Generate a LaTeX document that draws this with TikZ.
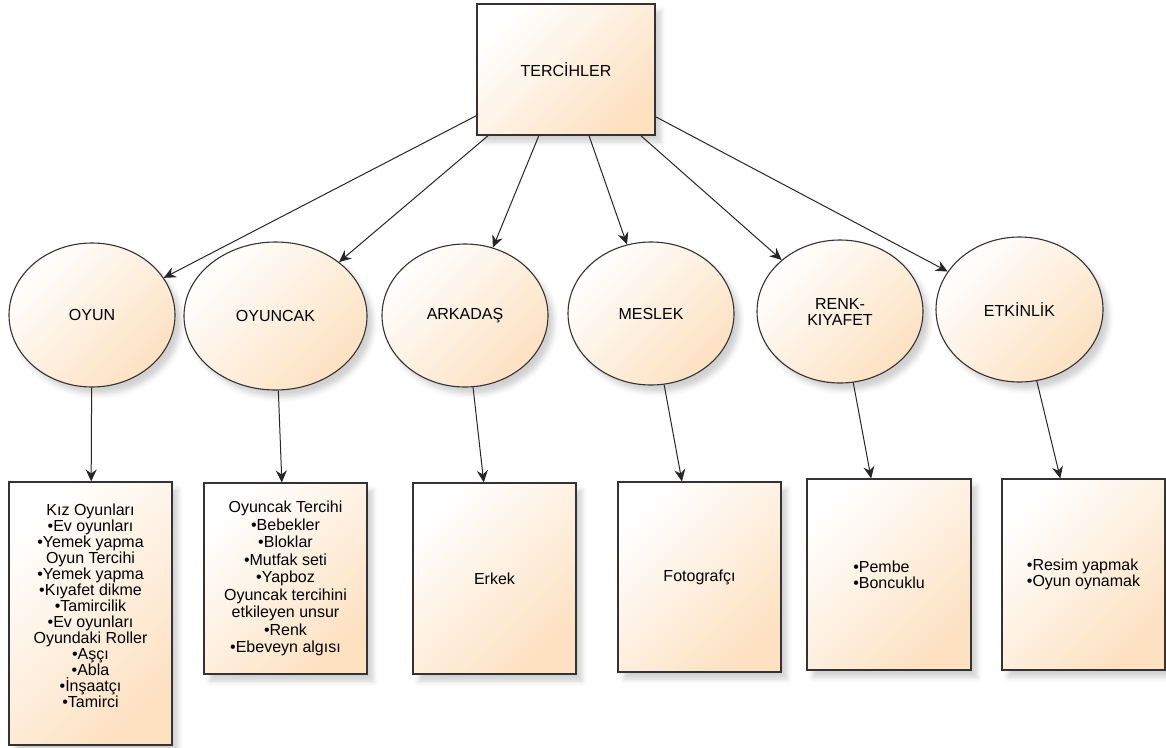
\documentclass[tikz,border=0pt]{standalone}
\usepackage{fontspec}
\setmainfont{Liberation Sans}
\usetikzlibrary{arrows.meta,shadows.blur,shapes.geometric}
\definecolor{peach}{RGB}{253,225,193}
\definecolor{edgecol}{RGB}{51,51,51}
\tikzset{
  base/.style={draw=edgecol, line width=1.1pt, top color=white, bottom color=peach, shading angle=45,
    blur shadow={shadow xshift=6pt, shadow yshift=-7pt, shadow blur radius=5pt, shadow opacity=18},
    font=\fontsize{16}{16}\selectfont, align=center, inner sep=0pt, text=black},
  ell/.style={base, ellipse},
  boxnode/.style={base, rectangle},
  conn/.style={draw=black!85, line width=1pt, -{Stealth[length=12pt,width=11pt,inset=4pt]}},
}
\begin{document}
\begin{tikzpicture}[x=1pt,y=-1pt]
\useasboundingbox (0,0) rectangle (1166,747);
\node[boxnode, minimum width=178pt, minimum height=131pt] (T) at (566,69.5) {TERCİHLER};

\node[ell, minimum width=166pt, minimum height=144pt] (oyun) at (92,315) {OYUN};
\node[ell, minimum width=183pt, minimum height=148pt] (oyuncak) at (275.5,316) {OYUNCAK};
\node[ell, minimum width=166pt, minimum height=143pt] (arkadas) at (465,315.5) {ARKADAŞ};
\node[ell, minimum width=166pt, minimum height=143pt] (meslek) at (651,313.5) {MESLEK};
\node[ell, minimum width=166pt, minimum height=143pt] (renk) at (840,311.5) {RENK-\\KIYAFET};
\node[ell, minimum width=167pt, minimum height=145pt] (etk) at (1019.5,309.5) {ETKİNLİK};

\node[boxnode, minimum width=163pt, minimum height=263pt] (b1) at (90.5,613.5)
  {Kız Oyunları\\•Ev oyunları\\•Yemek yapma\\Oyun Tercihi\\•Yemek yapma\\•Kıyafet dikme\\•Tamircilik\\•Ev oyunları\\Oyundaki Roller\\•Aşçı\\•Abla\\•İnşaatçı\\•Tamirci\\[0pt]{}};
\node[boxnode, minimum width=163pt, minimum height=191pt, font=\fontsize{16}{17.5}\selectfont] (b2) at (285.5,578.5)
  {Oyuncak Tercihi\\•Bebekler\\•Bloklar\\•Mutfak seti\\•Yapboz\\Oyuncak tercihini\\etkileyen unsur\\•Renk\\•Ebeveyn algısı};
\node[boxnode, minimum width=163pt, minimum height=191pt] (b3) at (494.5,578.5) {Erkek};
\node[boxnode, minimum width=163pt, minimum height=190pt] (b4) at (699.5,577) {Fotografçı};
\node[boxnode, minimum width=164pt, minimum height=191pt, align=left] (b5) at (889,574.5) {•Pembe\\•Boncuklu};
\node[boxnode, minimum width=163pt, minimum height=191pt, align=left] (b6) at (1083.5,574.5) {•Resim yapmak\\•Oyun oynamak};

\draw[conn] (T) -- (oyun);
\draw[conn] (T) -- (oyuncak);
\draw[conn] (T) -- (arkadas);
\draw[conn] (T) -- (meslek);
\draw[conn] (T) -- (renk);
\draw[conn] (T) -- (etk);

\draw[conn] (oyun) -- (b1);
\draw[conn] (oyuncak) -- (b2);
\draw[conn] (arkadas) -- (b3);
\draw[conn] (meslek) -- (b4);
\draw[conn] (renk) -- (b5);
\draw[conn] (etk) -- (b6);
\end{tikzpicture}
\end{document}
